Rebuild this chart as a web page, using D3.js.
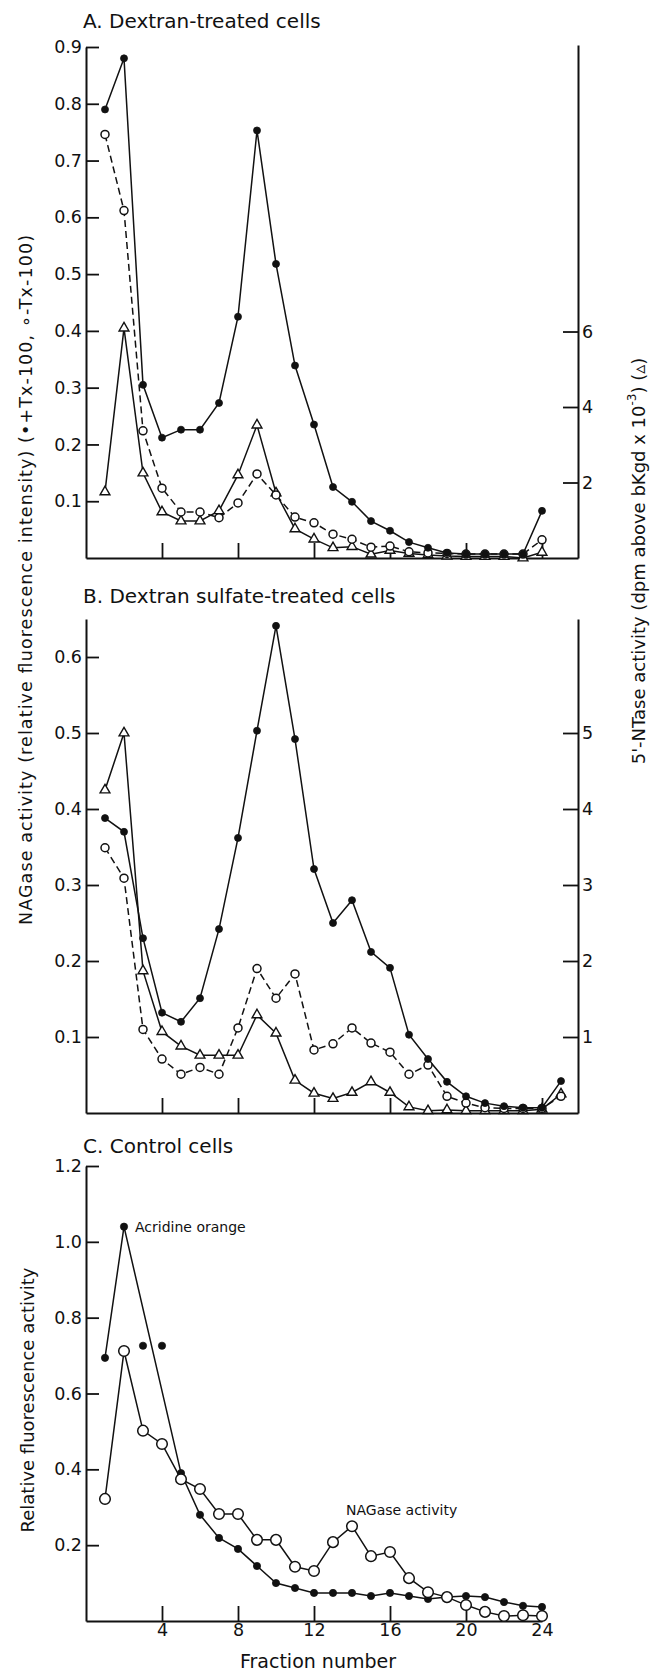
<!DOCTYPE html>
<html>
<head>
<meta charset="utf-8">
<script src="https://cdn.jsdelivr.net/npm/d3@7"></script>
<style>
  body { margin: 0; background: #fff; }
  svg text { font-family: "DejaVu Sans", sans-serif; fill: #111; }
</style>
</head>
<body>
<script>
// Fraction numbers and readings, panel A (dextran-treated cells)
const fracA = [1, 2, 3, 4, 5, 6, 7, 8, 9, 10, 11, 12, 13, 14, 15, 16, 17, 18, 19, 20, 21, 22, 23, 24];
const aPlusTx = [0.79, 0.88, 0.305, 0.212, 0.226, 0.226, 0.273, 0.425, 0.753, 0.518, 0.339, 0.235, 0.125, 0.099, 0.065, 0.048, 0.028, 0.018, 0.009, 0.007, 0.007, 0.007, 0.007, 0.083];
const aMinusTx = [0.746, 0.612, 0.224, 0.123, 0.081, 0.081, 0.071, 0.097, 0.148, 0.111, 0.072, 0.062, 0.042, 0.033, 0.019, 0.021, 0.011, 0.009, 0.008, 0.007, 0.007, 0.007, 0.007, 0.032];
const aNTase = [1.75, 6.09, 2.25, 1.22, 0.98, 0.98, 1.25, 2.2, 3.52, 1.72, 0.77, 0.5, 0.27, 0.3, 0.1, 0.2, 0.12, 0.08, 0.05, 0.04, 0.04, 0.04, 0.0, 0.15];

// Panel B (dextran sulfate-treated cells)
const fracB = [1, 2, 3, 4, 5, 6, 7, 8, 9, 10, 11, 12, 13, 14, 15, 16, 17, 18, 19, 20, 21, 22, 23, 24, 25];
const bPlusTx = [0.388, 0.37, 0.23, 0.132, 0.12, 0.151, 0.242, 0.362, 0.503, 0.641, 0.492, 0.321, 0.25, 0.28, 0.212, 0.191, 0.103, 0.071, 0.041, 0.022, 0.013, 0.009, 0.007, 0.007, 0.042];
const bMinusTx = [0.349, 0.309, 0.11, 0.071, 0.051, 0.06, 0.051, 0.112, 0.19, 0.151, 0.183, 0.083, 0.091, 0.112, 0.092, 0.08, 0.051, 0.063, 0.022, 0.013, 0.007, 0.006, 0.006, 0.006, 0.022];
const bNTase = [4.25, 5.0, 1.87, 1.07, 0.88, 0.76, 0.76, 0.76, 1.29, 1.05, 0.43, 0.26, 0.19, 0.27, 0.41, 0.27, 0.08, 0.03, 0.04, 0.03, 0.03, 0.03, 0.03, 0.05, 0.25];

// Panel C (control cells)
const fracC = [1, 2, 3, 4, 5, 6, 7, 8, 9, 10, 11, 12, 13, 14, 15, 16, 17, 18, 19, 20, 21, 22, 23, 24];
const cAcridine = [0.694, 1.04, 0.726, 0.726, 0.39, 0.28, 0.219, 0.19, 0.145, 0.1, 0.087, 0.074, 0.074, 0.074, 0.066, 0.074, 0.066, 0.058, 0.063, 0.066, 0.063, 0.05, 0.04, 0.037];
const cAcridineOffLine = [3, 4]; // plotted but not joined by the line
const cNAGase = [0.322, 0.712, 0.502, 0.467, 0.374, 0.348, 0.282, 0.282, 0.214, 0.214, 0.143, 0.132, 0.208, 0.25, 0.171, 0.182, 0.113, 0.076, 0.063, 0.042, 0.024, 0.013, 0.015, 0.013];

// Tick values
const xTicks = [4, 8, 12, 16, 20, 24];
const aLeftTicks = [0.1, 0.2, 0.3, 0.4, 0.5, 0.6, 0.7, 0.8, 0.9];
const aRightTicks = [2, 4, 6];
const bLeftTicks = [0.1, 0.2, 0.3, 0.4, 0.5, 0.6];
const bRightTicks = [1, 2, 3, 4, 5];
const cLeftTicks = [0.2, 0.4, 0.6, 0.8, 1.0, 1.2];

const width = 651, height = 1674;
const left = 86, rightAxisX = 578;

const svg = d3.select("body").append("svg")
    .attr("width", width)
    .attr("height", height)
    .attr("viewBox", [0, 0, width, height]);

// shared fraction scale; A and B extend it out to the right axis
const x = d3.scaleLinear([0, 24], [left, 542]);
const xAB = d3.scaleLinear([0, x.invert(rightAxisX)], [left, rightAxisX]);

const fmt = d3.format(".1f");

function styleAxis(g, fontSize) {
    g.select(".domain").attr("stroke", "#111").attr("stroke-width", 2);
    g.selectAll(".tick line").attr("stroke", "#111").attr("stroke-width", 1.8);
    g.selectAll(".tick text").attr("font-size", fontSize).attr("fill", "#111");
    g.attr("font-family", null);
}

function seriesLine(g, xs, ys, xScale, yScale, dash) {
    const pts = xs.map((f, i) => [f, ys[i]]);
    g.append("path")
        .datum(pts)
        .attr("fill", "none")
        .attr("stroke", "#111")
        .attr("stroke-width", 1.5)
        .attr("stroke-dasharray", dash || null)
        .attr("d", d3.line().x(d => xScale(d[0])).y(d => yScale(d[1])));
}

function dots(g, xs, ys, xScale, yScale, kind, r) {
    const pts = xs.map((f, i) => [f, ys[i]]);
    if (kind === "triangle") {
        g.append("g").selectAll("path")
            .data(pts)
            .join("path")
            .attr("transform", d => `translate(${xScale(d[0])},${yScale(d[1])})`)
            .attr("d", d3.symbol(d3.symbolTriangle, r))
            .attr("fill", "#fff")
            .attr("stroke", "#111")
            .attr("stroke-width", 1.4);
    } else {
        g.append("g").selectAll("circle")
            .data(pts)
            .join("circle")
            .attr("cx", d => xScale(d[0]))
            .attr("cy", d => yScale(d[1]))
            .attr("r", r)
            .attr("fill", kind === "filled" ? "#111" : "#fff")
            .attr("stroke", "#111")
            .attr("stroke-width", kind === "filled" ? 0.8 : 1.5);
    }
}

function frame(yLeft, leftTicks, yRight, rightTicks, baseY) {
    svg.append("g")
        .attr("transform", `translate(0,${baseY})`)
        .call(d3.axisBottom(xAB).tickValues(xTicks).tickSize(-15).tickSizeOuter(0).tickFormat(""))
        .call(g => styleAxis(g, 17));
    svg.append("g")
        .attr("transform", `translate(${left},0)`)
        .call(d3.axisLeft(yLeft).tickValues(leftTicks).tickSize(-13).tickSizeOuter(0).tickPadding(4).tickFormat(fmt))
        .call(g => styleAxis(g, 17.5));
    svg.append("g")
        .attr("transform", `translate(${rightAxisX},0)`)
        .call(d3.axisRight(yRight).tickValues(rightTicks).tickSize(-15).tickSizeOuter(0).tickPadding(4).tickFormat(d3.format("d")))
        .call(g => styleAxis(g, 17.5));
}

function title(text, y) {
    svg.append("text")
        .attr("x", 83)
        .attr("y", y)
        .attr("font-size", 20)
        .text(text);
}

// ---- Panel A ----
const yA = d3.scaleLinear([0, 0.9], [558, 47]);
const yAr = d3.scaleLinear([0, 13.59], [558, 45]);
title("A. Dextran-treated cells", 28);
frame(yA, aLeftTicks, yAr, aRightTicks, 558);
const gA = svg.append("g");
seriesLine(gA, fracA, aNTase, xAB, yAr);
seriesLine(gA, fracA, aMinusTx, xAB, yA, "7,4");
seriesLine(gA, fracA, aPlusTx, xAB, yA);
dots(gA, fracA, aNTase, xAB, yAr, "triangle", 42);
dots(gA, fracA, aMinusTx, xAB, yA, "open", 4);
dots(gA, fracA, aPlusTx, xAB, yA, "filled", 3.5);

// ---- Panel B ----
const yB = d3.scaleLinear([0, 0.65], [1113, 619]);
const yBr = d3.scaleLinear([0, 6.5], [1113, 619]);
title("B. Dextran sulfate-treated cells", 603);
frame(yB, bLeftTicks, yBr, bRightTicks, 1113);
const gB = svg.append("g");
seriesLine(gB, fracB, bNTase, xAB, yBr);
seriesLine(gB, fracB, bMinusTx, xAB, yB, "7,4");
seriesLine(gB, fracB, bPlusTx, xAB, yB);
dots(gB, fracB, bNTase, xAB, yBr, "triangle", 42);
dots(gB, fracB, bMinusTx, xAB, yB, "open", 4);
dots(gB, fracB, bPlusTx, xAB, yB, "filled", 3.5);

// ---- Panel C ----
const yC = d3.scaleLinear([0, 1.2], [1621, 1166]);
title("C. Control cells", 1153);
svg.append("g")
    .attr("transform", `translate(0,1621)`)
    .call(d3.axisBottom(x).tickValues(xTicks).tickSize(-15).tickSizeOuter(0).tickPadding(3).tickFormat(d3.format("d")))
    .call(g => styleAxis(g, 17.5));
svg.append("g")
    .attr("transform", `translate(${left},0)`)
    .call(d3.axisLeft(yC).tickValues(cLeftTicks).tickSize(-13).tickSizeOuter(0).tickPadding(4).tickFormat(fmt))
    .call(g => styleAxis(g, 17.5));

const gC = svg.append("g");
const onLineIdx = fracC.map((f, i) => i).filter(i => !cAcridineOffLine.includes(fracC[i]));
seriesLine(gC, onLineIdx.map(i => fracC[i]), onLineIdx.map(i => cAcridine[i]), x, yC);
seriesLine(gC, fracC, cNAGase, x, yC);
dots(gC, fracC, cAcridine, x, yC, "filled", 3.6);
dots(gC, fracC, cNAGase, x, yC, "open", 5.3);

svg.append("text")
    .attr("x", x(2) + 11)
    .attr("y", yC(cAcridine[1]) + 5)
    .attr("font-size", 14)
    .text("Acridine orange");
svg.append("text")
    .attr("x", x(13) + 13)
    .attr("y", yC(cNAGase[13]) - 11)
    .attr("font-size", 14)
    .text("NAGase activity");

// ---- Axis titles ----
svg.append("text")
    .attr("transform", "translate(26,580) rotate(-90)")
    .attr("text-anchor", "middle")
    .attr("dominant-baseline", "central")
    .attr("font-size", 17.5)
    .attr("textLength", 690)
    .attr("lengthAdjust", "spacing")
    .text("NAGase activity (relative fluorescence intensity) (\u2022+Tx-100, \u2218-Tx-100)");

const rt = svg.append("text")
    .attr("transform", "translate(638,561) rotate(-90)")
    .attr("text-anchor", "middle")
    .attr("dominant-baseline", "central")
    .attr("font-size", 18);
rt.append("tspan").text("5'-NTase activity (dpm above bKgd x 10");
rt.append("tspan").attr("font-size", 12).attr("dy", -6).text("-3");
rt.append("tspan").attr("dy", 6).text(") (\u25B5)");

svg.append("text")
    .attr("x", 318)
    .attr("y", 1668)
    .attr("text-anchor", "middle")
    .attr("font-size", 19)
    .text("Fraction number");
svg.append("text")
    .attr("transform", "translate(27,1400) rotate(-90)")
    .attr("text-anchor", "middle")
    .attr("dominant-baseline", "central")
    .attr("font-size", 18)
    .text("Relative fluorescence activity");
</script>
</body>
</html>
